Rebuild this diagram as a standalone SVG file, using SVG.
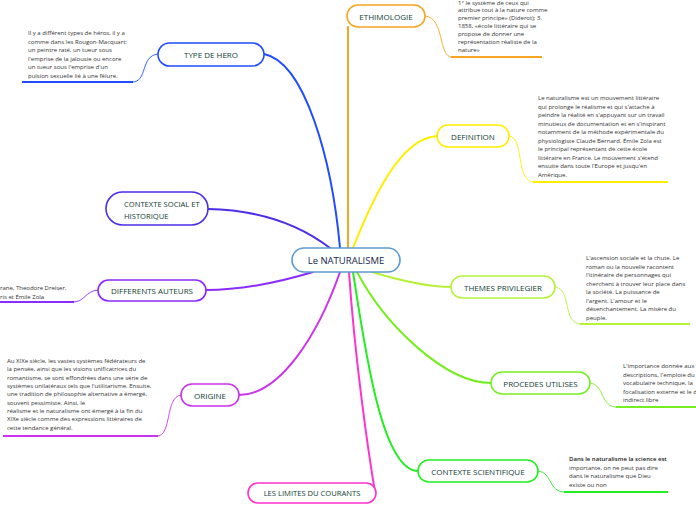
<svg xmlns="http://www.w3.org/2000/svg" width="696" height="520" viewBox="0 0 696 520">
<style>
.node{fill:#fff;stroke-width:1.6}
.lbl{font-family:"Open Sans","Noto Sans",sans-serif;font-size:8px;fill:#0f3d33;text-anchor:middle;dominant-baseline:central}
.txt{font-family:"Open Sans","Noto Sans",sans-serif;font-size:6px;fill:#333}
.br{fill:none;stroke-width:2;stroke-linecap:round}
.sub{fill:none;stroke-width:0.9}
.ul{fill:none;stroke-width:2}
</style>
<rect width="696" height="520" fill="#fff"/>
<g id="connectors">
<path class="br" stroke="#1f4cff" d="M340,248 C332,160 305,62 264,54"/>
<path class="br" stroke="#4a2ee8" d="M330,248 C300,225 262,210 208,209"/>
<path class="br" stroke="#f5a623" d="M348,248 L348,27"/>
<path class="br" stroke="#ffee00" d="M353,248 C372,200 400,138 437,136"/>
<path class="br" stroke="#b7f23a" d="M372,272 C405,282 430,287 451,287"/>
<path class="br" stroke="#77ee22" d="M357,272 C385,325 445,383 491,383"/>
<path class="br" stroke="#22ee22" d="M353,272 C365,350 382,471 418,471"/>
<path class="br" stroke="#ff33cc" d="M349,272 C355,360 368,450 375,492"/>
<path class="br" stroke="#cc33ee" d="M340,272 C318,335 280,395 239,395"/>
<path class="br" stroke="#8a2cff" d="M313,272 C270,285 232,290 206,290"/>
<path class="sub" stroke="#1f4cff" d="M158,54 C140,56 148,82 132,82"/>
<path class="ul" stroke="#1f4cff" d="M22,82 L133,82"/>
<path class="sub" stroke="#f5a623" d="M425,16 C445,18 438,57 452,57"/>
<path class="ul" stroke="#f5a623" d="M451,57 L542,57"/>
<path class="sub" stroke="#ffee00" d="M509,136 C525,138 515,182 534,182"/>
<path class="ul" stroke="#ffee00" d="M533,182 L668,182"/>
<path class="sub" stroke="#b7f23a" d="M555,287 C572,289 562,324 581,324"/>
<path class="ul" stroke="#b7f23a" d="M580,324 L690,324"/>
<path class="sub" stroke="#77ee22" d="M590,383 C605,385 600,407 617,407"/>
<path class="ul" stroke="#77ee22" d="M616,407 L696,407"/>
<path class="sub" stroke="#22ee22" d="M538,471 C553,473 548,492 565,492"/>
<path class="ul" stroke="#22ee22" d="M564,492 L668,492"/>
<path class="sub" stroke="#cc33ee" d="M181,395 C165,397 172,436 157,436"/>
<path class="ul" stroke="#cc33ee" d="M3,436 L158,436"/>
<path class="sub" stroke="#8a2cff" d="M98,290 C85,291 85,302 73,302"/>
<path class="ul" stroke="#8a2cff" d="M0,302 L74,302"/>
</g>
<g id="center">
<rect class="node" x="292" y="248" width="108" height="24" rx="12" stroke="#5a9bd5" fill="#fcfdff"/>
<text class="lbl" x="346" y="260" style="font-size:9.5px;fill:#17284a">Le NATURALISME</text>
</g>
<g id="type-de-hero">
<rect class="node" x="158" y="43" width="106" height="23" rx="11.5" stroke="#1f4cff"/>
<text class="lbl" x="211" y="54.5">TYPE DE HERO</text>
<text class="txt" x="28"><tspan x="28" y="35">Il y a différent types de héros, il y a</tspan><tspan x="28" y="43.5">comme dans les Rougon-Macquart:</tspan><tspan x="28" y="52">un peintre raté, un tueur sous</tspan><tspan x="28" y="60.5">l'emprise de la jalousie ou encore</tspan><tspan x="28" y="69">un tueur sous l'emprise d'un</tspan><tspan x="28" y="77.5">pulsion sexuelle lié à une fêlure.</tspan></text>
</g>
<g id="ethimologie">
<rect class="node" x="347" y="5" width="78" height="22" rx="11" stroke="#f5a623"/>
<text class="lbl" x="386" y="16">ETHIMOLOGIE</text>
<text class="txt"><tspan x="458" y="5">1° le système de ceux qui</tspan><tspan x="458" y="12">attribue tout à la nature comme</tspan><tspan x="458" y="20">premier principe» (Diderot); 3.</tspan><tspan x="458" y="28">1858, «école littéraire qui se</tspan><tspan x="458" y="36">propose de donner une</tspan><tspan x="458" y="44">représentation réaliste de la</tspan><tspan x="458" y="52">nature»</tspan></text>
</g>
<g id="definition">
<rect class="node" x="437" y="125" width="72" height="22" rx="11" stroke="#ffee00"/>
<text class="lbl" x="473" y="136">DEFINITION</text>
<text class="txt"><tspan x="538" y="100">Le naturalisme est un mouvement littéraire</tspan><tspan x="538" y="108.5">qui prolonge le réalisme et qui s'attache à</tspan><tspan x="538" y="117">peindre la réalité en s'appuyant sur un travail</tspan><tspan x="538" y="125.5">minutieux de documentation et en s'inspirant</tspan><tspan x="538" y="134">notamment de la méthode expérimentale du</tspan><tspan x="538" y="142.5">physiologiste Claude Bernard. Émile Zola est</tspan><tspan x="538" y="151">le principal représentant de cette école</tspan><tspan x="538" y="159.5">littéraire en France. Le mouvement s'étend</tspan><tspan x="538" y="168">ensuite dans toute l'Europe et jusqu'en</tspan><tspan x="538" y="176.5">Amérique.</tspan></text>
</g>
<g id="themes">
<rect class="node" x="451" y="276" width="104" height="22" rx="11" stroke="#b7f23a"/>
<text class="lbl" x="503" y="287">THEMES PRIVILEGIER</text>
<text class="txt"><tspan x="586" y="260">L'ascension sociale et la chute. Le</tspan><tspan x="586" y="268.5">roman ou la nouvelle racontent</tspan><tspan x="586" y="277">l'itinéraire de personnages qui</tspan><tspan x="586" y="285.5">cherchent à trouver leur place dans</tspan><tspan x="586" y="294">la société. La puissance de</tspan><tspan x="586" y="302.5">l'argent.  L'amour et le</tspan><tspan x="586" y="311">désenchantement. La misère du</tspan><tspan x="586" y="319.5">peuple.</tspan></text>
</g>
<g id="procedes">
<rect class="node" x="491" y="372" width="99" height="22" rx="11" stroke="#77ee22"/>
<text class="lbl" x="540.5" y="383">PROCEDES UTILISES</text>
<text class="txt"><tspan x="623" y="368">L'importance donnée aux</tspan><tspan x="623" y="376.5">descriptions, l'emploie du</tspan><tspan x="623" y="385">vocabulaire technique, la</tspan><tspan x="623" y="393.5">focalisation externe et le d</tspan><tspan x="623" y="402">indirect libre</tspan></text>
</g>
<g id="contexte-scientifique">
<rect class="node" x="418" y="460" width="120" height="22" rx="11" stroke="#22ee22"/>
<text class="lbl" x="478" y="471">CONTEXTE SCIENTIFIQUE</text>
<text class="txt"><tspan x="569" y="461" font-weight="600" fill="#222">Dans le naturalisme la science est</tspan><tspan x="569" y="469.5">importante, on ne peut pas dire</tspan><tspan x="569" y="478">dans le naturalisme que Dieu</tspan><tspan x="569" y="486.5">existe ou non</tspan></text>
</g>
<g id="limites">
<rect class="node" x="248" y="483" width="128" height="20" rx="10" stroke="#ff33cc"/>
<text class="lbl" x="312" y="493" style="font-size:7.6px">LES LIMITES DU COURANTS</text>
</g>
<g id="origine">
<rect class="node" x="181" y="384" width="58" height="22" rx="11" stroke="#cc33ee"/>
<text class="lbl" x="210" y="395">ORIGINE</text>
<text class="txt"><tspan x="7" y="363">Au XIXe siècle, les vastes systèmes fédérateurs de</tspan><tspan x="7" y="371.3">la pensée, ainsi que les visions unificatrices du</tspan><tspan x="7" y="379.6">romantisme, se sont effondrées dans une série de</tspan><tspan x="7" y="388">systèmes unilatéraux tels que l'utilitarisme. Ensuite,</tspan><tspan x="7" y="396.3">une tradition de philosophie alternative a émergé,</tspan><tspan x="7" y="404.6">souvent pessimiste. Ainsi, le</tspan><tspan x="7" y="413">réalisme et le naturalisme ont émergé à la fin du</tspan><tspan x="7" y="421.3">XIXe siècle comme des expressions littéraires de</tspan><tspan x="7" y="429.6">cette tendance général.</tspan></text>
</g>
<g id="auteurs">
<rect class="node" x="98" y="280" width="108" height="21" rx="10.5" stroke="#8a2cff"/>
<text class="lbl" x="152" y="290.5">DIFFERENTS AUTEURS</text>
<text class="txt"><tspan x="0" y="290">rane, Theodore Dreiser,</tspan><tspan x="0" y="298.5">ris et Émile Zola</tspan></text>
</g>
<g id="contexte-social">
<rect class="node" x="106" y="192" width="102" height="33" rx="16.5" stroke="#4a2ee8"/>
<text class="lbl" style="text-anchor:start;font-size:7.6px"><tspan x="124" y="204">CONTEXTE SOCIAL ET</tspan><tspan x="124" y="215.5">HISTORIQUE</tspan></text>
</g>
</svg>
